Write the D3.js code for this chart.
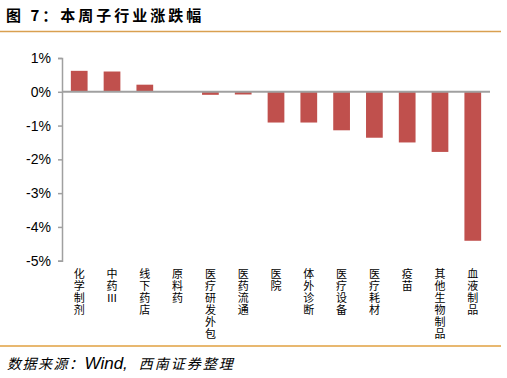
<!DOCTYPE html>
<html>
<head>
<meta charset="utf-8">
<script src="https://cdn.jsdelivr.net/npm/d3@7"></script>
<style>
  body { margin: 0; background: #fff; }
  svg { display: block; }
</style>
</head>
<body>
<div id="mount"></div>
<script>
// sub-industry weekly change, in percent
var categories = ['化学制剂', '中药Ⅲ', '线下药店', '原料药', '医疗研发外包', '医药流通', '医院',
  '体外诊断', '医疗设备', '医疗耗材', '疫苗', '其他生物制品', '血液制品'];
var changes = [0.62, 0.60, 0.21, 0.0, -0.09, -0.08, -0.91, -0.91, -1.14, -1.36, -1.50, -1.78, -4.41];
var yTicks = [1, 0, -1, -2, -3, -4, -5];

var W = 507, H = 378;
var svg = d3.select('#mount').append('svg')
    .attr('width', W)
    .attr('height', H);

// title and the two orange rules
svg.append('text')
    .attr('x', 6).attr('y', 21)
    .attr('font-family', '"Noto Sans CJK SC", sans-serif')
    .attr('font-weight', 'bold')
    .attr('font-size', 15)
    .attr('letter-spacing', 3)
    .attr('fill', '#000')
    .text('图 7：本周子行业涨跌幅');

svg.append('line')
    .attr('x1', 0).attr('x2', 501).attr('y1', 31.5).attr('y2', 31.5)
    .attr('stroke', '#d9a050').attr('stroke-width', 1.5);
svg.append('line')
    .attr('x1', 0).attr('x2', 501).attr('y1', 346).attr('y2', 346)
    .attr('stroke', '#e0a040').attr('stroke-width', 1.5);

var src = svg.append('text')
    .attr('x', 7).attr('y', 369)
    .attr('font-size', 14)
    .attr('font-style', 'italic')
    .attr('fill', '#000');
src.append('tspan').attr('font-family', '"Noto Sans CJK SC", sans-serif')
    .attr('letter-spacing', 1.5).text('数据来源：');
src.append('tspan').attr('font-family', '"Liberation Sans", Arial, sans-serif')
    .attr('font-size', 17).attr('letter-spacing', 0).text('Wind,');
src.append('tspan').attr('font-family', '"Noto Sans CJK SC", sans-serif')
    .attr('dx', 11)
    .attr('letter-spacing', 2).text('西南证券整理');

// plot area
var left = 62, right = 490;
var x = d3.scaleBand()
    .domain(categories)
    .range([left, right])
    .paddingInner(0.49)
    .paddingOuter(0.27);

var y = d3.scaleLinear()
    .domain([-5, 1])
    .range([260.7, 58]);

svg.selectAll('.bar')
    .data(changes)
  .enter().append('rect')
    .attr('class', 'bar')
    .attr('x', (d, i) => x(categories[i]))
    .attr('width', x.bandwidth())
    .attr('y', d => y(Math.max(0, d)))
    .attr('height', d => Math.abs(y(d) - y(0)))
    .attr('fill', '#c0504d');

// y axis
var yAxis = d3.axisLeft(y)
    .tickValues(yTicks)
    .tickSize(4)
    .tickFormat(d => d + '%');

var ya = svg.append('g')
    .attr('transform', `translate(${left},0)`)
    .call(yAxis);
ya.select('.domain').attr('stroke', '#a0a0a0').attr('stroke-width', 1.5);
ya.selectAll('.tick line').attr('stroke', '#a0a0a0').attr('stroke-width', 1.5);
ya.selectAll('.tick text')
    .attr('font-family', '"Liberation Sans", Arial, sans-serif')
    .attr('font-size', 14)
    .attr('fill', '#000')
    .attr('x', -11);

// zero line
svg.append('line')
    .attr('x1', left).attr('x2', right)
    .attr('y1', y(0)).attr('y2', y(0))
    .attr('stroke', '#a0a0a0').attr('stroke-width', 2);

// vertical category labels
svg.selectAll('.lab')
    .data(categories)
  .enter().append('text')
    .attr('class', 'lab')
    .attr('x', d => x(d) + x.bandwidth() / 2)
    .attr('y', 268)
    .attr('writing-mode', 'vertical-rl')
    .attr('text-orientation', 'upright')
    .attr('letter-spacing', 1)
    .attr('font-family', '"Noto Sans CJK SC", sans-serif')
    .attr('font-size', 11)
    .attr('fill', '#000')
    .text(d => d);
</script>
</body>
</html>
